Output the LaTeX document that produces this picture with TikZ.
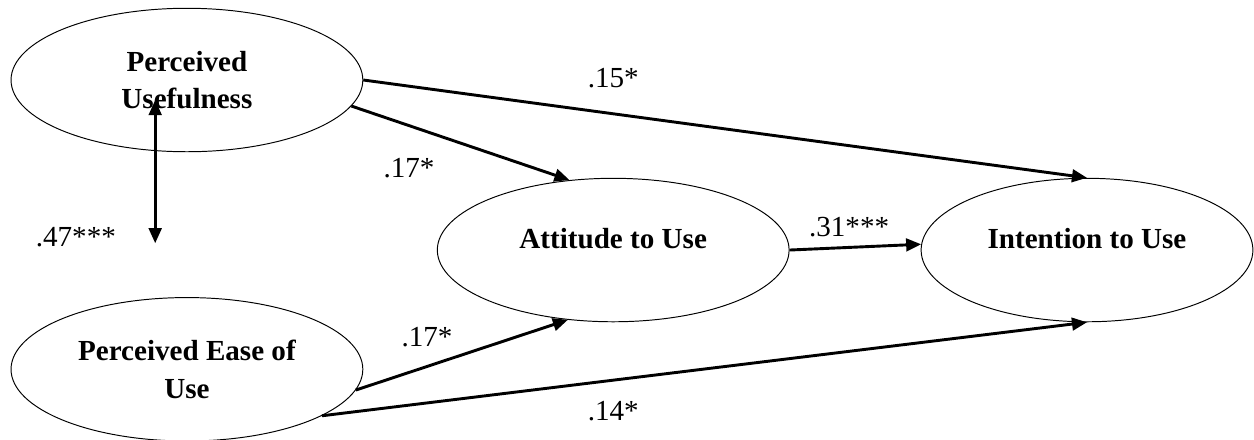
\documentclass[tikz,border=0pt]{standalone}
\usepackage{fontspec}
\setmainfont{Liberation Serif}
\usetikzlibrary{arrows.meta,positioning,calc,shapes.geometric}

\begin{document}
\begin{tikzpicture}[
  node distance=21mm and 19mm,
  every node/.style={font=\fontsize{12}{15.5}\selectfont,align=center},
  ov/.style={draw,ellipse,line width=0.4pt,minimum width=51mm,minimum height=20.8mm,font=\fontsize{12}{15.5}\selectfont\bfseries},
  ar/.style={-{Triangle[length=6.2pt,width=5.2pt]},line width=1.2pt},
  br/.style={{Triangle[length=6.2pt,width=5.2pt]}-{Triangle[length=6.2pt,width=5.2pt]},line width=1.2pt},
  lb/.style={inner sep=0pt}
]
\useasboundingbox (0,0) rectangle (18.18,-6.366);
\node[ov] (pu) at (2.71,-1.16) {Perceived\\Usefulness};
\node[ov,below=of pu] (peou) {Perceived Ease of\\Use};
\node[ov,text depth=10pt] (att) at (8.89,-3.625) {Attitude to Use};
\node[ov,right=of att,minimum width=48.1mm,text depth=10pt] (itu) {Intention to Use};
\draw[ar] (pu.east) -- (itu.north);
\draw[ar] (pu.-9) -- (att.122);
\draw[ar] (peou.-7) -- (att.-123);
\draw[ar] (peou.-19) -- (itu.south);
\draw[ar] (att.east) -- (itu.178);
\coordinate (cortop) at ($(pu.center)+(-4.6mm,-2.9mm)$);
\coordinate (corbot) at ($(peou.north)+(-4.6mm,7.8mm)$);
\draw[br] (cortop) -- (corbot);
\node[lb] (l15) at (8.89,-1.13) {.15*};
\node[lb] (l17a) at (5.93,-2.44) {.17*};
\node[lb] (l47) at (1.10,-3.44) {.47***};
\node[lb] (l31) at (12.31,-3.29) {.31***};
\node[lb] (l17b) at (6.19,-4.89) {.17*};
\node[lb] (l14) at (8.89,-5.96) {.14*};
\end{tikzpicture}
\end{document}
